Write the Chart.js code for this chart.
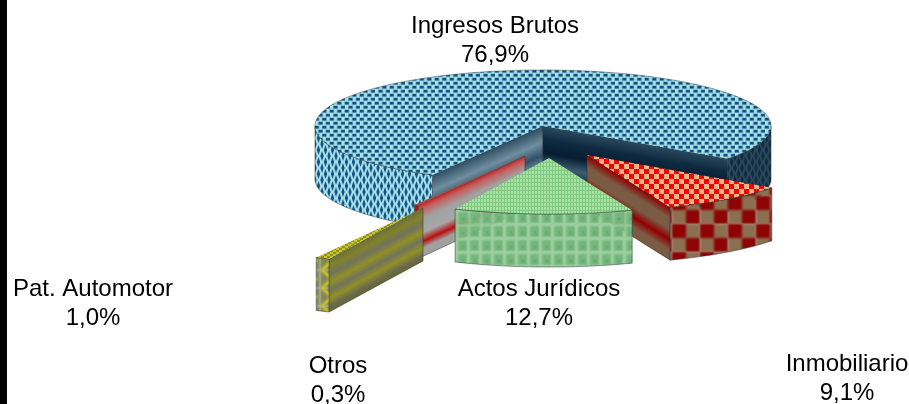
<!DOCTYPE html>
<html><head><meta charset="utf-8">
<style>html,body{margin:0;padding:0;background:#fff;overflow:hidden}canvas{display:block;filter:blur(.35px)}</style>
<script src="https://cdn.jsdelivr.net/npm/chart.js@4"></script>
</head><body>
<canvas id="c" width="909" height="404"></canvas>
<script>
// ---- data ----
const categories = ["Ingresos Brutos", "Inmobiliario", "Actos Jurídicos", "Pat. Automotor", "Otros"];
const shares = [76.9, 9.1, 12.7, 1.0, 0.3];
const shareLabels = ["76,9%", "9,1%", "12,7%", "1,0%", "0,3%"];

// ---- presentation only ----
const firstSliceRotation = 209;         // degrees
const RX = 228, RY = 56, DEPTH = 53;    // projected ellipse + extrusion
const CX = 543, CY = 126;
const shift = [[0,0],[44,29],[6,32],[-120,82],[-18,30]];  // exploded offsets on screen
const drawOrder = [0,4,1,2,3];
const labelPos = [[495,33],[847,371],[539,296],[93,296],[338,373]];
const LINE = 29;

function tile(w,h,fn,blur){
  const c=document.createElement('canvas');c.width=w;c.height=h;
  const g=c.getContext('2d');
  if(blur) g.filter='blur('+blur+'px)';
  for(let i=-1;i<=1;i++)for(let j=-1;j<=1;j++){g.save();g.translate(i*w,j*h);fn(g);g.restore();}
  return document.createElement('canvas').getContext('2d').createPattern(c,'repeat');
}
const bg=(g,w,h,col)=>{g.fillStyle=col;g.fillRect(0,0,w,h);};
const tops=[
 tile(15,8,g=>{bg(g,15,8,'#a6e2e6');
   [[0,0],[7.5,0],[3.75,4],[11.25,4]].forEach(([x,y])=>{g.fillStyle='#6ba8c4';g.fillRect(x-.8,y-.5,5.2,3.4);g.fillStyle='#134e80';g.fillRect(x,y,3.6,2.4);});},.3),
 tile(10,10,g=>{bg(g,10,10,'#f4b488');g.fillStyle='#f40404';g.fillRect(0,0,5,5);g.fillRect(5,5,5,5);},.2),
 tile(3,4,g=>{bg(g,3,4,'#a8e2a4');g.fillStyle='#7cc97f';g.fillRect(0,0,1,4);g.fillRect(0,0,3,1);},.3),
 tile(6,4,g=>{bg(g,6,4,'#8f8f30');g.fillStyle='#c8c820';g.fillRect(0,0,3,2);g.fillRect(3,2,3,2);},.2),
 tile(4,4,g=>{bg(g,4,4,'#c04040');},0)
];
const walls=[
 tile(7,12,g=>{bg(g,7,12,'#a6dfe6');g.fillStyle='#14558a';
   [[0,0],[3.5,6]].forEach(([x,y])=>{g.beginPath();g.moveTo(x,y-5);g.lineTo(x+1.7,y);g.lineTo(x,y+5);g.lineTo(x-1.7,y);g.fill();});},.6),
 tile(28,28,g=>{bg(g,28,28,'#8c6e50');g.fillStyle='#8e0404';g.fillRect(0,0,14,14);g.fillRect(14,14,14,14);},1.2),
 tile(12,14,g=>{bg(g,12,14,'#76b57d');g.fillStyle='#a0d4a2';g.fillRect(0,0,12,2);g.fillRect(0,0,2,14);g.fillStyle='#4ca057';g.fillRect(6,8,2,2);},.8),
 tile(16,18,g=>{bg(g,16,18,'#85855a');g.strokeStyle='#d0d020';g.lineWidth=3;g.beginPath();g.moveTo(2,0);g.lineTo(12,9);g.lineTo(2,18);g.stroke();},1),
 tile(4,4,g=>{bg(g,4,4,'#b01010');},0)
];
// colour bands across the depth of cut faces
const cutBands=[
 {s:[[0,'#2d4c62'],[.3,'#6f8f9e'],[.55,'#2f5068'],[.8,'#7a99a8'],[1,'#4a6a7c']],
  e:[[0,'#2a4a5e'],[.25,'#0f2a40'],[.5,'#061c30'],[.75,'#3f5c70'],[1,'#0d2538']]},
 {e:[[0,'#8e0000'],[.22,'#7a5c44'],[.42,'#7a5c44'],[.62,'#920000'],[.82,'#7a5c44'],[1,'#7a5c44']]},
 {},
 {s:[[0,'#6e6e40'],[.15,'#82822a'],[.3,'#72725e'],[.45,'#909024'],[.6,'#72725e'],[.75,'#909024'],[.9,'#6a6a50'],[1,'#66662a']]},
 {s:[[0,'#c02a2a'],[.1,'#c46060'],[.28,'#a0a0a0'],[.55,'#a8a8a8'],[.72,'#b81010'],[.85,'#a0a0a0'],[1,'#a0a0a0']]}
];

function arcPts(cx,cy,a0,a1,dy){
  const n=Math.max(2,Math.ceil(Math.abs(a1-a0)/0.02)),pts=[];
  for(let i=0;i<=n;i++){const a=a0+(a1-a0)*i/n;pts.push([cx+RX*Math.cos(a),cy+RY*Math.sin(a)+dy]);}
  return pts;
}
function outerWall(ctx,cx,cy,a0,a1,fill,shade){
  const top=arcPts(cx,cy,a0,a1,0),bot=arcPts(cx,cy,a1,a0,DEPTH);
  const path=new Path2D();
  top.concat(bot).forEach((p,i)=>i?path.lineTo(p[0],p[1]):path.moveTo(p[0],p[1]));
  path.closePath();
  ctx.fillStyle=fill;ctx.fill(path);
  if(shade){ctx.fillStyle=shade;ctx.fill(path);}
  ctx.strokeStyle='rgba(40,55,55,.5)';ctx.lineWidth=1;ctx.stroke(path);
}
function cutWall(ctx,cx,cy,a,stops){
  const ox=cx+RX*Math.cos(a),oy=cy+RY*Math.sin(a);
  ctx.save();
  ctx.transform(ox-cx,oy-cy,0,DEPTH,cx,cy);      // unit square -> face
  const g=ctx.createLinearGradient(0,0,0,1);
  stops.forEach(s=>g.addColorStop(s[0],s[1]));
  ctx.fillStyle=g;ctx.fillRect(0,0,1,1);
  ctx.restore();
  ctx.strokeStyle='rgba(40,50,50,.5)';ctx.lineWidth=1;
  ctx.beginPath();ctx.moveTo(cx,cy);ctx.lineTo(ox,oy);ctx.lineTo(ox,oy+DEPTH);ctx.lineTo(cx,cy+DEPTH);ctx.closePath();ctx.stroke();
}

const pie3d={
  id:'pie3d',
  beforeDatasetsDraw(chart){
    const ctx=chart.ctx,els=chart.getDatasetMeta(0).data;
    ctx.save();
    ctx.fillStyle='#000';ctx.fillRect(0,0,7,chart.height);
    drawOrder.forEach(i=>{
      const el=els[i],a0=el.startAngle,a1=el.endAngle;
      const cx=CX+shift[i][0],cy=CY+shift[i][1];
      const sx=RX/el.outerRadius,sy=RY/el.outerRadius;
      const b=cutBands[i];
      if(b.s&&Math.cos(a0)<0) cutWall(ctx,cx,cy,a0,b.s);
      if(b.e&&Math.cos(a1)>0) cutWall(ctx,cx,cy,a1,b.e);
      walls[i].setTransform(new DOMMatrix());
      for(let k=0;k<3;k++){
        const lo=Math.max(a0,k*2*Math.PI),hi=Math.min(a1,k*2*Math.PI+Math.PI);
        if(hi>lo){
          let shade=null;
          if(i===0){
            shade=ctx.createLinearGradient(CX+120,0,CX+190,0);
            shade.addColorStop(0,'rgba(10,30,50,0)');shade.addColorStop(1,'rgba(12,32,50,.8)');
          }
          outerWall(ctx,cx,cy,lo,hi,walls[i],shade);
        }
      }
      // top face: the library's own arc, projected
      tops[i].setTransform(new DOMMatrix().scale(1/sx,1/sy));
      ctx.save();
      ctx.translate(cx,cy);ctx.scale(sx,sy);ctx.translate(-el.x,-el.y);
      el.draw(ctx);
      ctx.restore();
      ctx.strokeStyle='rgba(40,55,55,.45)';ctx.lineWidth=1;
      ctx.beginPath();arcPts(cx,cy,a0,a1,0).forEach((p,j)=>j?ctx.lineTo(p[0],p[1]):ctx.moveTo(p[0],p[1]));ctx.stroke();
    });
    // labels
    ctx.fillStyle='#000';ctx.textAlign='center';ctx.textBaseline='alphabetic';
    ctx.font='24px "Liberation Sans", Arial, sans-serif';
    categories.forEach((name,i)=>{
      ctx.fillText(name,labelPos[i][0],labelPos[i][1]);
      ctx.fillText(shareLabels[i],labelPos[i][0],labelPos[i][1]+LINE);
    });
    ctx.restore();
    return false;
  }
};

new Chart(document.getElementById('c'),{
  type:'pie',
  data:{labels:categories,datasets:[{data:shares,backgroundColor:tops,borderWidth:0}]},
  options:{
    responsive:false,animation:false,events:[],
    rotation:firstSliceRotation,
    layout:{padding:0},
    plugins:{legend:{display:false},tooltip:{enabled:false},title:{display:false}}
  },
  plugins:[pie3d]
});
</script>
</body></html>
